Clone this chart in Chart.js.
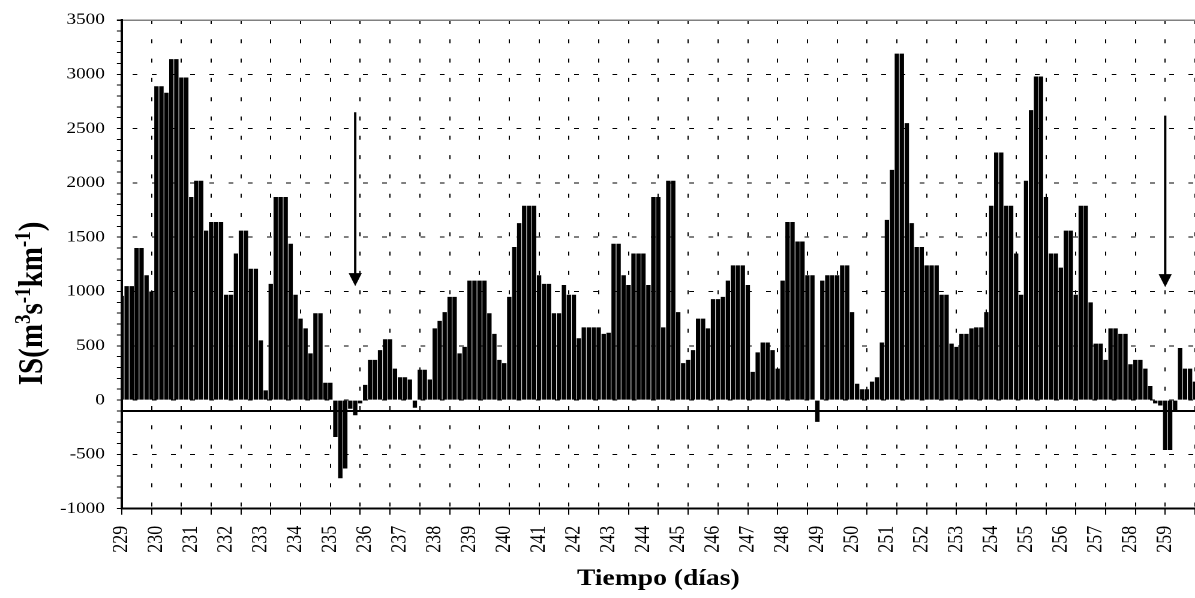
<!DOCTYPE html>
<html lang="es">
<head>
<meta charset="utf-8">
<title>IS (m3 s-1 km-1)</title>
<script src="https://cdn.jsdelivr.net/npm/chart.js@4.4.1/dist/chart.umd.min.js"></script>
<style>
  html, body { margin: 0; padding: 0; background: #fff; overflow: hidden; }
</style>
</head>
<body>
<!-- el original está algo estirado en horizontal: se dibuja a 996 px y se muestra a 1195 px -->
<canvas id="chart" width="996" height="598" style="display:block;width:1195px;height:598px"></canvas>
<script>
// Valores de IS, 7 por día (días 229 a 259 y el primero del 260)
const isValues = [
    960, 1050, 1050, 1400, 1400, 1150, 1000,     // 229
    2890, 2890, 2830, 3140, 3140, 2970, 2970,    // 230
    1870, 2020, 2020, 1560, 1640, 1640, 1640,    // 231
    970, 970, 1350, 1560, 1560, 1210, 1210,      // 232
    550, 90, 1070, 1870, 1870, 1870, 1440,       // 233
    970, 750, 660, 430, 800, 800, 160,           // 234
    160, -340, -720, -630, -80, -140, -30,       // 235
    140, 370, 370, 460, 560, 560, 290,           // 236
    210, 210, 190, -70, 280, 280, 190,           // 237
    660, 730, 810, 950, 950, 430, 490,           // 238
    1100, 1100, 1100, 1100, 800, 610, 370,       // 239
    340, 950, 1410, 1630, 1790, 1790, 1790,      // 240
    1150, 1070, 1070, 800, 800, 1060, 970,       // 241
    970, 570, 670, 670, 670, 670, 610,           // 242
    620, 1440, 1440, 1150, 1060, 1350, 1350,     // 243
    1350, 1060, 1870, 1870, 670, 2020, 2020,     // 244
    810, 340, 370, 460, 750, 750, 660,           // 245
    930, 930, 950, 1100, 1240, 1240, 1240,       // 246
    1060, 260, 440, 530, 530, 460, 290,          // 247
    1100, 1640, 1640, 1460, 1460, 1150, 1150,    // 248
    -200, 1100, 1150, 1150, 1150, 1240, 1240,    // 249
    810, 150, 100, 100, 170, 210, 530,           // 250
    1660, 2120, 3190, 3190, 2550, 1630, 1410,    // 251
    1410, 1240, 1240, 1240, 970, 970, 520,       // 252
    490, 610, 610, 660, 670, 670, 810,           // 253
    1790, 2280, 2280, 1790, 1790, 1350, 970,     // 254
    2020, 2670, 2980, 2980, 1870, 1350, 1350,    // 255
    1220, 1560, 1560, 970, 1790, 1790, 900,      // 256
    520, 520, 370, 660, 660, 610, 610,           // 257
    330, 370, 370, 290, 130, -30, -50,           // 258
    -460, -460, -110, 480, 290, 290, 170         // 259
];

const dayTicks = [229, 230, 231, 232, 233, 234, 235, 236, 237, 238, 239, 240, 241, 242, 243, 244,
                  245, 246, 247, 248, 249, 250, 251, 252, 253, 254, 255, 256, 257, 258, 259];
const valuesPerDay = 7;
const gridEvery = 6;        // divisiones verticales cada 6 valores

const yMin = -1000;
const yMax = 3500;
const yStep = 100;
const yLabelStep = 500;
const thresholdValue = -100;

// flechas: posición (índice del valor) y rango vertical
const arrowIndex = [47, 210];
const arrowFrom = [2650, 2620];
const arrowTo = [1050, 1040];

const FONT = '"Liberation Serif", "Times New Roman", serif';

const labels = isValues.map((_, i) => i % valuesPerDay === 0 ? String(dayTicks[i / valuesPerDay]) : '');

// línea horizontal y flechas
const marksPlugin = {
    id: 'marks',
    afterDatasetsDraw(chart) {
        const { ctx, chartArea, scales: { x, y } } = chart;
        ctx.save();
        ctx.strokeStyle = '#000';
        ctx.fillStyle = '#000';

        const ty = y.getPixelForValue(thresholdValue);
        ctx.lineWidth = 2;
        ctx.beginPath();
        ctx.moveTo(chartArea.left, ty);
        ctx.lineTo(chartArea.right, ty);
        ctx.stroke();

        arrowIndex.forEach((idx, i) => {
            const px = x.getPixelForValue(idx);
            const top = y.getPixelForValue(arrowFrom[i]);
            const tip = y.getPixelForValue(arrowTo[i]);
            const head = 13;
            ctx.lineWidth = 2;
            ctx.beginPath();
            ctx.moveTo(px, top);
            ctx.lineTo(px, tip - head + 1);
            ctx.stroke();
            ctx.beginPath();
            ctx.moveTo(px - 5.5, tip - head);
            ctx.lineTo(px + 5.5, tip - head);
            ctx.lineTo(px, tip);
            ctx.closePath();
            ctx.fill();
        });
        ctx.restore();
    }
};

// título del eje Y con superíndices
const yTitleParts = [
    { text: 'IS(m', sup: false },
    { text: '3', sup: true },
    { text: 's', sup: false },
    { text: '-1', sup: true },
    { text: 'km', sup: false },
    { text: '-1', sup: true },
    { text: ')', sup: false }
];

const yTitlePlugin = {
    id: 'yTitle',
    afterDraw(chart) {
        const { ctx, chartArea } = chart;
        const base = 'bold 29px ' + FONT;
        const small = 'bold 19px ' + FONT;
        ctx.save();
        let total = 0;
        yTitleParts.forEach(p => {
            ctx.font = p.sup ? small : base;
            total += ctx.measureText(p.text).width;
        });
        const cy = chartArea.top + (chartArea.bottom - chartArea.top) * 0.58;
        ctx.translate(35, cy);
        ctx.rotate(-Math.PI / 2);
        ctx.fillStyle = '#000';
        ctx.textBaseline = 'alphabetic';
        let pos = -total / 2;
        yTitleParts.forEach(p => {
            ctx.font = p.sup ? small : base;
            ctx.fillText(p.text, pos, p.sup ? -10 : 0);
            pos += ctx.measureText(p.text).width;
        });
        ctx.restore();
    }
};

const clear = 'rgba(0,0,0,0)';

new Chart(document.getElementById('chart'), {
    type: 'bar',
    data: {
        labels: labels,
        datasets: [{
            data: isValues,
            backgroundColor: '#000',
            borderWidth: 0,
            barPercentage: 0.88,
            categoryPercentage: 1
        }]
    },
    options: {
        responsive: false,
        animation: false,
        devicePixelRatio: 2,
        layout: { padding: { top: 20, left: 0, right: 0, bottom: 0 } },
        plugins: {
            legend: { display: false },
            tooltip: { enabled: false }
        },
        scales: {
            x: {
                offset: false,
                grid: {
                    offset: false,
                    color: c => c.index % gridEvery === 0 ? '#000' : clear,
                    tickColor: c => c.index % gridEvery === 0 ? '#000' : clear,
                    lineWidth: 1,
                    tickLength: 6
                },
                border: { color: '#000', width: 2, dash: [4, 15.3] },
                ticks: {
                    autoSkip: false,
                    minRotation: 90,
                    maxRotation: 90,
                    padding: 11,
                    color: '#000',
                    font: { family: FONT, size: 18 }
                },
                title: {
                    display: true,
                    text: 'Tiempo (días)',
                    color: '#000',
                    font: { family: FONT, size: 23, weight: 'bold' },
                    padding: { top: 0, bottom: 5 }
                },
                afterFit: s => {
                    s.height = 89.3;
                    s.paddingLeft = 0;
                    s.paddingRight = 0;
                }
            },
            y: {
                min: yMin,
                max: yMax,
                grid: {
                    color: c => {
                        const v = c.tick ? c.tick.value : 0;
                        if (v % yLabelStep !== 0) return clear;
                        return v === yMax ? '#808080' : '#000';
                    },
                    lineWidth: c => (c.tick && c.tick.value === yMax) ? 1.5 : 1,
                    tickColor: '#000',
                    tickLength: 4
                },
                border: {
                    color: '#000',
                    width: 2,
                    dash: c => (c.tick && c.tick.value === yMax) ? [] : [4, 12],
                    dashOffset: 8
                },
                ticks: {
                    stepSize: yStep,
                    autoSkip: false,
                    padding: 10,
                    color: '#000',
                    font: { family: FONT, size: 16 },
                    callback: v => v % yLabelStep === 0 ? String(v) : ''
                },
                afterFit: s => { s.width = 101.4; }
            }
        }
    },
    plugins: [marksPlugin, yTitlePlugin]
});
</script>
</body>
</html>
